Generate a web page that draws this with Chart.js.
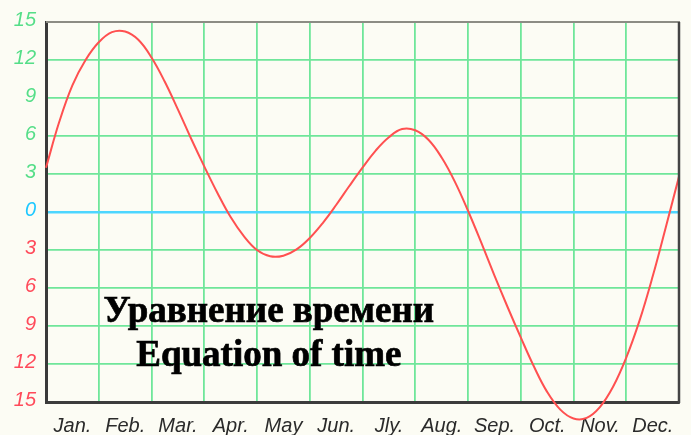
<!DOCTYPE html>
<html>
<head>
<meta charset="utf-8">
<script src="https://cdn.jsdelivr.net/npm/chart.js@4/dist/chart.umd.min.js"></script>
<style>
  html, body { margin: 0; padding: 0; background: #fcfcf4; }
  #wrap { width: 691px; height: 435px; }
</style>
</head>
<body>
<div id="wrap"><canvas id="c" width="691" height="435"></canvas></div>
<script>
// Month labels (placed between vertical grid lines)
const monthLabels = ['Jan.', 'Feb.', 'Mar.', 'Apr.', 'May', 'Jun.', 'Jly.', 'Aug.', 'Sep.', 'Oct.', 'Nov.', 'Dec.'];
// Position along the year, in months from 1 January (quarter-month steps)
const eotMonth = [0, 0.25, 0.5, 0.75, 1, 1.25, 1.5, 1.75, 2, 2.25, 2.5, 2.75, 3, 3.25, 3.5, 3.75, 4, 4.25, 4.5, 4.75, 5, 5.25, 5.5, 5.75, 6, 6.25, 6.5, 6.75, 7, 7.25, 7.5, 7.75, 8, 8.25, 8.5, 8.75, 9, 9.25, 9.5, 9.75, 10, 10.25, 10.5, 10.75, 11, 11.25, 11.5, 11.75, 12];
// Equation of time, minutes
const eotMinutes = [3.5, 7.1, 10.0, 12.0, 13.4, 14.2, 14.25, 13.6, 12.2, 10.3, 8.1, 5.8, 3.6, 1.5, -0.4, -1.9, -3.0, -3.5, -3.45, -2.95, -2.05, -0.85, 0.55, 2.05, 3.5, 4.85, 5.9, 6.55, 6.45, 5.7, 4.3, 2.4, 0.1, -2.4, -5.0, -7.5, -9.9, -12.2, -14.2, -15.6, -16.3, -16.25, -15.4, -13.8, -11.5, -8.6, -5.1, -1.2, 2.8];
// Y tick values
const yTicks = [-15, -12, -9, -6, -3, 0, 3, 6, 9, 12, 15];
const titleLines = ['Уравнение времени', 'Equation of time'];

const GREEN = '#6fe69a';
const CYAN = '#4dd6ff';

const framePlugin = {
  id: 'frame',
  beforeDraw(chart) {
    const ctx = chart.ctx;
    ctx.save();
    ctx.fillStyle = '#fcfcf4';
    ctx.fillRect(0, 0, chart.width, chart.height);
    ctx.restore();
  },
  afterDraw(chart) {
    const { ctx, chartArea: a } = chart;
    ctx.save();
    // top border
    ctx.strokeStyle = '#8c8c84';
    ctx.lineWidth = 2;
    ctx.beginPath();
    ctx.moveTo(a.left, a.top);
    ctx.lineTo(a.right + 1, a.top);
    ctx.stroke();
    // right border
    ctx.strokeStyle = '#444444';
    ctx.lineWidth = 2.5;
    ctx.beginPath();
    ctx.moveTo(a.right, a.top);
    ctx.lineTo(a.right, a.bottom + 1);
    ctx.stroke();
    // title text
    ctx.fillStyle = '#000';
    ctx.strokeStyle = '#000';
    ctx.lineWidth = 0.7;
    ctx.font = 'bold 37px "Liberation Serif", "Times New Roman", serif';
    ctx.textAlign = 'center';
    ctx.textBaseline = 'alphabetic';
    const cx = a.left + (a.right - a.left) * 0.352;
    ctx.fillText(titleLines[0], cx, a.top + 300);
    ctx.strokeText(titleLines[0], cx, a.top + 300);
    ctx.fillText(titleLines[1], cx, a.top + 344);
    ctx.strokeText(titleLines[1], cx, a.top + 344);
    ctx.restore();
  }
};

new Chart(document.getElementById('c'), {
  type: 'line',
  data: {
    datasets: [{
      data: eotMonth.map((m, i) => ({ x: m, y: eotMinutes[i] })),
      borderColor: '#ff5050',
      borderWidth: 2,
      pointRadius: 0,
      fill: false,
      tension: 0.4,
      clip: false
    }]
  },
  options: {
    responsive: false,
    animation: false,
    events: [],
    layout: { padding: { top: 16, right: 9, bottom: 0, left: 0 } },
    plugins: { legend: { display: false }, tooltip: { enabled: false } },
    scales: {
      x: {
        type: 'linear',
        min: 0,
        max: 12,
        afterBuildTicks(scale) {
          scale.ticks = Array.from({ length: 13 }, (_, i) => ({ value: i }));
        },
        afterFit(scale) { scale.height = 33; },
        grid: { color: GREEN, lineWidth: 1.8, drawTicks: false },
        border: { display: true, color: '#3c3c3c', width: 3 },
        ticks: {
          padding: 12,
          labelOffset: 26.5,
          maxRotation: 0,
          autoSkip: false,
          color: '#2a2a2a',
          font: { family: '"Liberation Sans Narrow", "Liberation Sans", Arial, sans-serif', size: 20, style: 'italic' },
          callback: (v) => (v >= 0 && v < monthLabels.length ? monthLabels[v] : '')
        }
      },
      y: {
        type: 'linear',
        min: -15,
        max: 15,
        afterBuildTicks(scale) {
          scale.ticks = yTicks.map(v => ({ value: v }));
        },
        afterFit(scale) { scale.width = 46; },
        grid: {
          drawTicks: false,
          color: (c) => (c.tick && c.tick.value === 0 ? CYAN : GREEN),
          lineWidth: (c) => (c.tick && c.tick.value === 0 ? 2.5 : 1.8)
        },
        border: { display: true, color: '#3a3a3a', width: 3 },
        ticks: {
          padding: 10,
          labelOffset: -2,
          color: (c) => (c.tick.value > 0 ? '#55de88' : (c.tick.value === 0 ? '#1ec8ff' : '#ff4a5a')),
          font: { family: '"Liberation Sans", Arial, sans-serif', size: 20, style: 'italic' },
          callback: (v) => String(Math.abs(v))
        }
      }
    }
  },
  plugins: [framePlugin]
});
</script>
</body>
</html>
